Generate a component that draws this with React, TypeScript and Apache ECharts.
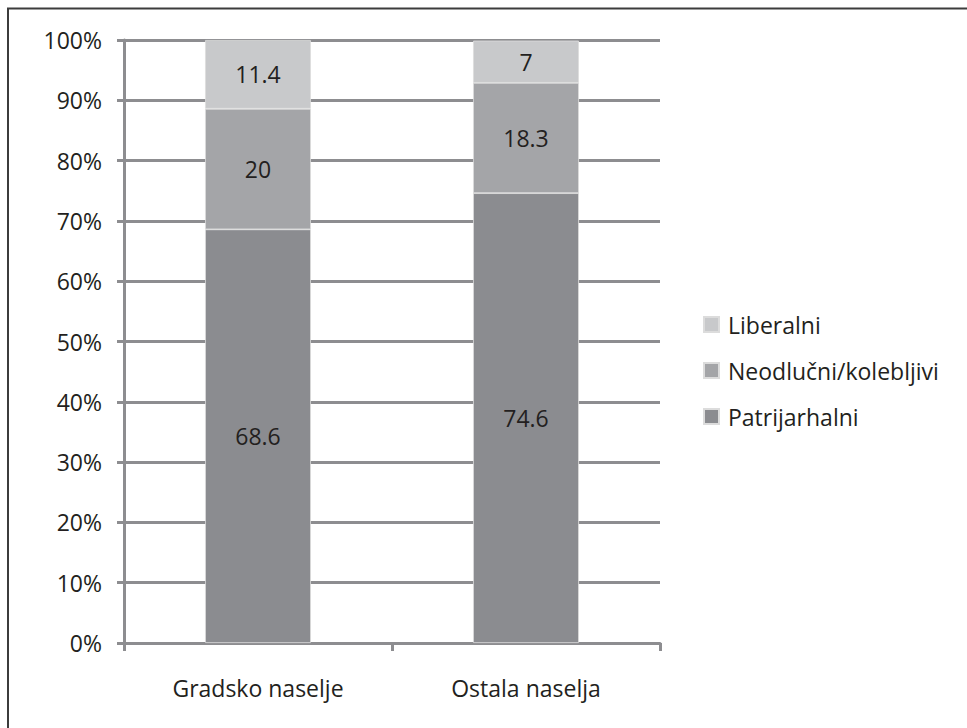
import React, { useEffect, useRef } from "react";
import * as echarts from "echarts";

const categories = ["Gradsko naselje", "Ostala naselja"];
const patrijarhalni = [68.6, 74.6];
const neodlucni = [20, 18.3];
const liberalni = [11.4, 7];
const seriesNames = ["Patrijarhalni", "Neodlučni/kolebljivi", "Liberalni"];
const legendOrder = ["Liberalni", "Neodlučni/kolebljivi", "Patrijarhalni"];

const FONT = "Open Sans";
const FS = 23;
const TEXT = "#231f20";
const AXIS = "#8d8d90";

export default function App() {
  const ref = useRef<HTMLDivElement>(null);
  useEffect(() => {
    if (!ref.current) return;
    const chart = echarts.init(ref.current, null, { renderer: "svg" });
    const mk = (name: string, data: number[], color: string) => ({
      name,
      type: "bar",
      stack: "total",
      data,
      barWidth: "39.5%",
      itemStyle: { color, borderColor: "#dcdcdc", borderWidth: 0.8 },
      label: {
        show: true,
        position: "inside",
        color: TEXT,
        fontFamily: FONT,
        fontSize: FS,
        formatter: (p: any) => String(p.value),
      },
    });
    chart.setOption({
      animation: false,
      backgroundColor: "#ffffff",
      textStyle: { fontFamily: FONT },
      grid: { left: 124, right: 307, top: 40, bottom: 85 },
      legend: {
        orient: "vertical",
        left: 703,
        top: 313,
        padding: 0,
        itemWidth: 15,
        itemHeight: 15,
        itemGap: 23,
        icon: "rect",
        data: legendOrder,
        textStyle: { fontFamily: FONT, fontSize: FS, color: TEXT, padding: [0, 0, 0, 4] },
      },
      xAxis: {
        type: "category",
        data: categories,
        axisLine: { lineStyle: { color: AXIS, width: 3 } },
        axisTick: { show: true, length: 8, lineStyle: { color: AXIS, width: 3 } },
        axisLabel: { color: TEXT, fontFamily: FONT, fontSize: FS, margin: 33 },
      },
      yAxis: {
        type: "value",
        min: 0,
        max: 100,
        interval: 10,
        axisLine: { show: true, lineStyle: { color: AXIS, width: 3 } },
        axisTick: { show: true, length: 7, lineStyle: { color: AXIS, width: 3 } },
        splitLine: { show: true, lineStyle: { color: AXIS, width: 3 } },
        axisLabel: {
          color: TEXT,
          fontFamily: FONT,
          fontSize: FS,
          margin: 22,
          formatter: (v: number) => `${v}%`,
        },
      },
      graphic: [
        { type: "line", shape: { x1: 7, y1: 8.5, x2: 967, y2: 8.5 }, style: { stroke: "#3c3c3c", lineWidth: 2 } },
        { type: "line", shape: { x1: 8, y1: 8, x2: 8, y2: 728 }, style: { stroke: "#3c3c3c", lineWidth: 2 } },
      ],
      series: [
        mk(seriesNames[0], patrijarhalni, "#8b8c90"),
        mk(seriesNames[1], neodlucni, "#a4a5a8"),
        mk(seriesNames[2], liberalni, "#c8c9cb"),
      ],
    });
    return () => chart.dispose();
  }, []);
  return (
    <div
      ref={ref}
      style={{ position: "fixed", left: 0, top: 0, width: 967, height: 728, background: "#fff" }}
    />
  );
}
